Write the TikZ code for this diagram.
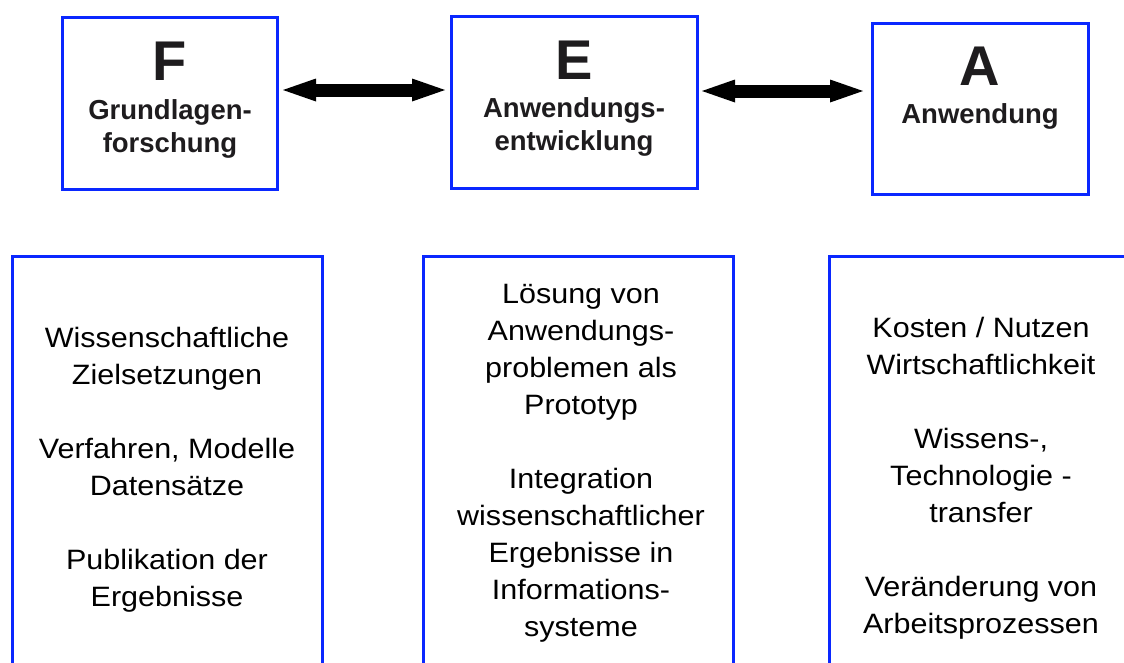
\documentclass[tikz,border=0pt]{standalone}
\usepackage{fontspec}
\setmainfont{Liberation Sans}
\newfontfamily\regfont[FakeStretch=1.09]{Liberation Sans}
\usetikzlibrary{arrows.meta}
\definecolor{boxblue}{RGB}{10,40,255}
\definecolor{ink}{RGB}{30,28,30}
\tikzset{
  topbox/.style={draw=boxblue, line width=3pt, rectangle, inner sep=0pt, outer sep=0pt, minimum height=172pt},
  lowbox/.style={draw=boxblue, line width=3pt, rectangle, inner sep=0pt, outer sep=0pt, minimum width=310pt, minimum height=600pt},
  bigletter/.style={anchor=base, inner sep=0pt, text=ink, font=\bfseries\fontsize{56}{60}\selectfont},
  toplabel/.style={anchor=base, inner sep=0pt, align=center, text=ink, font=\bfseries\fontsize{27.5}{33}\selectfont},
  bodytext/.style={anchor=base, inner sep=0pt, align=center, text=black, font=\regfont\fontsize{28}{37}\selectfont},
  dblarrow/.style={line width=13pt, {Triangle[length=33pt,width=23pt,line width=0pt]}-{Triangle[length=33pt,width=23pt,line width=0pt]}}
}
\begin{document}
\begin{tikzpicture}[x=1pt,y=-1pt]
\useasboundingbox (0,0) rectangle (1124,662);
\clip (0,0) rectangle (1124,662);
\fill[white] (0,0) rectangle (1124,662);

% top boxes
\node[topbox, minimum width=215pt] (F) at (169.5,103) {};
\node[topbox, minimum width=246pt] (E) at (574,102) {};
\node[topbox, minimum width=216pt, minimum height=171pt] (A) at (980,108.5) {};

% (anchor=base of a multi-line node sits on its last line)
\node[bigletter] (Fl) at (170,80) {F};
\node[toplabel] (Ft) at (170,152) {Grundlagen-\\forschung};
\node[bigletter] (El) at (574,79) {E};
\node[toplabel] (Et) at (574,150) {Anwendungs-\\entwicklung};
\node[bigletter] (Al) at (980,85) {A};
\node[toplabel] (At) at (980,123) {Anwendung};

% arrows
\coordinate (lvlA) at (0,90);
\coordinate (lvlB) at (0,91);
\draw[dblarrow, shorten <=6pt, shorten >=6pt] (F.east |- lvlA) -- (E.west |- lvlA);
\draw[dblarrow, shorten <=5pt, shorten >=9pt] (E.east |- lvlB) -- (A.west |- lvlB);

% lower boxes (open at the bottom of the picture)
\node[lowbox] (bF) at (167,556) {};
\node[lowbox] (bE) at (578,556) {};
\node[lowbox] (bA) at (984,556) {};

\node[bodytext] (tF) at (167,606) {Wissenschaftliche\\Zielsetzungen\\[37pt]Verfahren, Modelle\\Datensätze\\[37pt]Publikation der\\Ergebnisse};
\node[bodytext] (tE) at (581,636) {Lösung von\\Anwendungs-\\problemen als\\Prototyp\\[37pt]Integration\\wissenschaftlicher\\Ergebnisse in\\Informations-\\systeme};
\node[bodytext] (tA) at (981,633) {Kosten / Nutzen\\Wirtschaftlichkeit\\[37pt]Wissens-,\\Technologie -\\transfer\\[37pt]Veränderung von\\Arbeitsprozessen};
\end{tikzpicture}
\end{document}
